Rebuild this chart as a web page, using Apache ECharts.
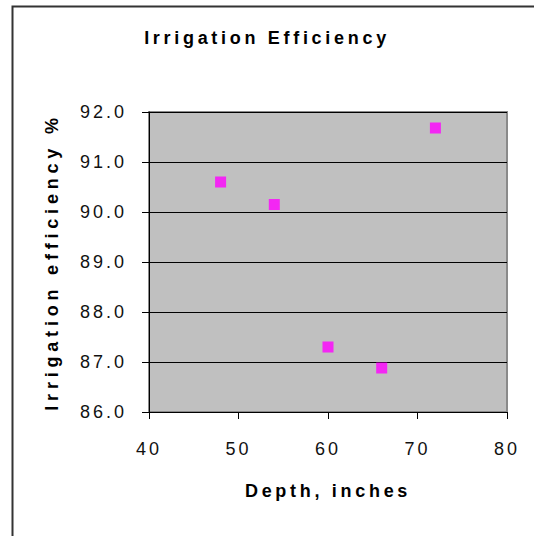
<!DOCTYPE html>
<html>
<head>
<meta charset="utf-8">
<script src="https://cdn.jsdelivr.net/npm/echarts@6/dist/echarts.min.js"></script>
<style>
  html, body { margin: 0; padding: 0; background: #fff; }
  #c { width: 534px; height: 536px; }
  #c text { letter-spacing: 3px; }
  #c text[style*="bold"] { letter-spacing: 3.7px; }
  #c text[style*="800"] { letter-spacing: 4.8px; }
</style>
</head>
<body>
<div id="c"></div>
<script>
const titleText = 'Irrigation Efficiency';
const xAxisName = 'Depth, inches';
const yAxisName = 'Irrigation efficiency %';
const depth = [48, 54, 60, 66, 72];
const efficiency = [90.6, 90.15, 87.3, 86.88, 91.68];
const xTicks = [40, 50, 60, 70, 80];
const yTicks = [86, 87, 88, 89, 90, 91, 92];

const FONT = 'Liberation Sans, Arial, sans-serif';
const chart = echarts.init(document.getElementById('c'), null, { renderer: 'svg' });
chart.setOption({
  animation: false,
  backgroundColor: '#fff',
  title: {
    text: titleText, left: 'center', top: 24,
    textStyle: { fontFamily: FONT, fontWeight: 'bold', fontSize: 18, color: '#000' }
  },
  graphic: [{
    type: 'rect', left: 10, top: 4, z: 100,
    shape: { width: 620, height: 620 },
    style: { fill: 'none', stroke: '#333', lineWidth: 2 }
  }],
  grid: {
    left: 149, top: 112, width: 358, height: 300,
    show: true, backgroundColor: '#C0C0C0', borderColor: '#8a8a8a', borderWidth: 2
  },
  xAxis: {
    type: 'value', min: xTicks[0], max: xTicks[xTicks.length - 1], interval: 10,
    name: xAxisName, nameLocation: 'middle', nameGap: 70,
    nameTextStyle: { fontFamily: FONT, fontWeight: 'bold', fontSize: 18, color: '#000' },
    axisLine: { show: true, onZero: false, lineStyle: { color: '#000', width: 1 } },
    axisTick: { show: true, length: 7, lineStyle: { color: '#000' } },
    axisLabel: { margin: 28, fontFamily: FONT, fontSize: 18, color: '#111' },
    splitLine: { show: false }
  },
  yAxis: {
    type: 'value', min: yTicks[0], max: yTicks[yTicks.length - 1], interval: 1,
    name: yAxisName, nameLocation: 'middle', nameGap: 88,
    nameTextStyle: { fontFamily: FONT, fontWeight: 800, fontSize: 18, color: '#000' },
    axisLine: { show: true, onZero: false, lineStyle: { color: '#000', width: 1 } },
    axisTick: { show: true, length: 7, lineStyle: { color: '#000' } },
    axisLabel: { margin: 22, fontFamily: FONT, fontSize: 18, color: '#111',
      formatter: v => v.toFixed(1) },
    splitLine: { show: true, lineStyle: { color: '#000', width: 1 } }
  },
  series: [{
    type: 'scatter',
    data: depth.map((d, i) => [d, efficiency[i]]),
    symbol: 'rect', symbolSize: 11,
    itemStyle: { color: '#FF00FF' }
  }]
});
</script>
</body>
</html>
